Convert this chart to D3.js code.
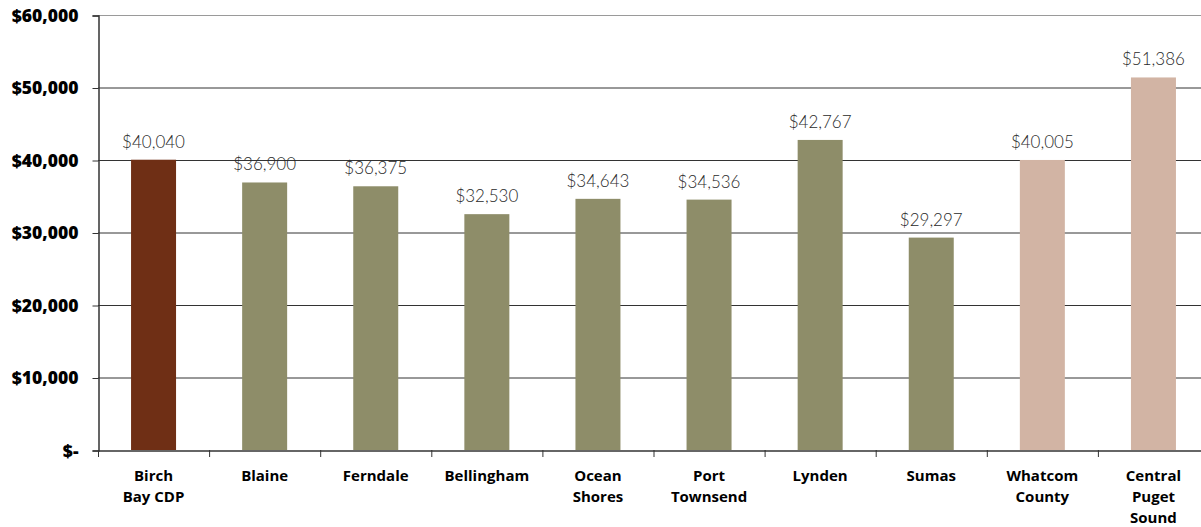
<!DOCTYPE html>
<html>
<head>
<meta charset="utf-8">
<script src="https://cdn.jsdelivr.net/npm/d3@7"></script>
<style>
  body { margin: 0; background: #fff; }
  svg { display: block; }
</style>
</head>
<body>
<svg id="chart" width="1201" height="527"></svg>
<script>
var categories = ["Birch\nBay CDP", "Blaine", "Ferndale", "Bellingham", "Ocean\nShores",
  "Port\nTownsend", "Lynden", "Sumas", "Whatcom\nCounty", "Central\nPuget\nSound"];
var values = [40040, 36900, 36375, 32530, 34643, 34536, 42767, 29297, 40005, 51386];
var groups = ["site", "city", "city", "city", "city", "city", "city", "city", "region", "region"];
var yTicks = [0, 10000, 20000, 30000, 40000, 50000, 60000];

var colors = { site: "#6f2f15", city: "#8e8d69", region: "#d2b4a4" };

var svg = d3.select("#chart");
var plotLeft = 98, plotTop = 15, plotBottom = 450, plotRight = 1209;

var x = d3.scaleBand()
    .domain(categories)
    .range([plotLeft, plotRight])
    .paddingInner(0.595)
    .paddingOuter(0.2975);

var y = d3.scaleLinear()
    .domain([0, 60000])
    .range([plotBottom, plotTop]);

var money = d3.format(",");

// gridlines
svg.append("g")
  .selectAll("line")
  .data(yTicks.filter(function(d) { return d > 0; }))
  .enter().append("line")
    .attr("x1", plotLeft)
    .attr("x2", 1201)
    .attr("y1", function(d) { return y(d) + 0.5; })
    .attr("y2", function(d) { return y(d) + 0.5; })
    .attr("stroke", function(d) { return d == 60000 ? "#9a9a9a" : "#333"; })
    .attr("stroke-width", 1);

// bars
svg.append("g")
  .selectAll("rect")
  .data(categories)
  .enter().append("rect")
    .attr("x", function(d) { return x(d); })
    .attr("width", x.bandwidth())
    .attr("y", function(d, i) { return y(values[i]); })
    .attr("height", function(d, i) { return plotBottom - y(values[i]); })
    .attr("fill", function(d, i) { return colors[groups[i]]; });

// value labels
svg.append("g")
  .selectAll("text")
  .data(categories)
  .enter().append("text")
    .attr("x", function(d) { return x(d) + x.bandwidth() / 2; })
    .attr("y", function(d, i) { return y(values[i]) - 12; })
    .attr("text-anchor", "middle")
    .attr("font-family", "Lato, 'Open Sans', sans-serif")
    .attr("font-weight", 300)
    .attr("font-size", 17)
    .attr("fill", "#2a2a2a")
    .text(function(d, i) { return "$" + money(values[i]); });

// y axis
var yAxis = d3.axisLeft(y)
    .tickValues(yTicks)
    .tickSize(6)
    .tickPadding(14)
    .tickFormat(function(d) { return d == 0 ? "$-" : "$" + money(d); });

var yg = svg.append("g")
    .attr("transform", "translate(" + (plotLeft + 0.5) + ",0.5)")
    .call(yAxis);
yg.select(".domain").attr("stroke", "#333").attr("stroke-width", 1.5);
yg.selectAll(".tick line").attr("stroke", "#333");
yg.selectAll(".tick text")
    .attr("font-family", "'Open Sans', sans-serif")
    .attr("font-weight", 800)
    .attr("font-size", 17.5)
    .attr("fill", "#000");

// x axis
var xAxis = d3.axisBottom(x).tickSize(0).tickFormat("");
var xg = svg.append("g")
    .attr("transform", "translate(0," + (plotBottom + 0.5) + ")")
    .call(xAxis);
xg.select(".domain").attr("stroke", "#333").attr("stroke-width", 1.5);

// category separators
svg.append("g")
  .selectAll("line")
  .data(categories)
  .enter().append("line")
    .attr("x1", function(d) { return x(d) - x.step() * x.paddingOuter() + 0.5; })
    .attr("x2", function(d) { return x(d) - x.step() * x.paddingOuter() + 0.5; })
    .attr("y1", plotBottom)
    .attr("y2", plotBottom + 7)
    .attr("stroke", "#333");

// category labels
var cat = svg.append("g")
  .selectAll("text")
  .data(categories)
  .enter().append("text")
    .attr("x", function(d) { return x(d) + x.bandwidth() / 2; })
    .attr("y", 481)
    .attr("text-anchor", "middle")
    .attr("font-family", "'Open Sans', sans-serif")
    .attr("font-weight", 700)
    .attr("font-size", 15)
    .attr("fill", "#000");

cat.selectAll("tspan")
  .data(function(d) { return d.split("\n"); })
  .enter().append("tspan")
    .attr("x", function() { return d3.select(this.parentNode).attr("x"); })
    .attr("dy", function(d, i) { return i == 0 ? 0 : 21; })
    .text(function(d) { return d; });
</script>
</body>
</html>
